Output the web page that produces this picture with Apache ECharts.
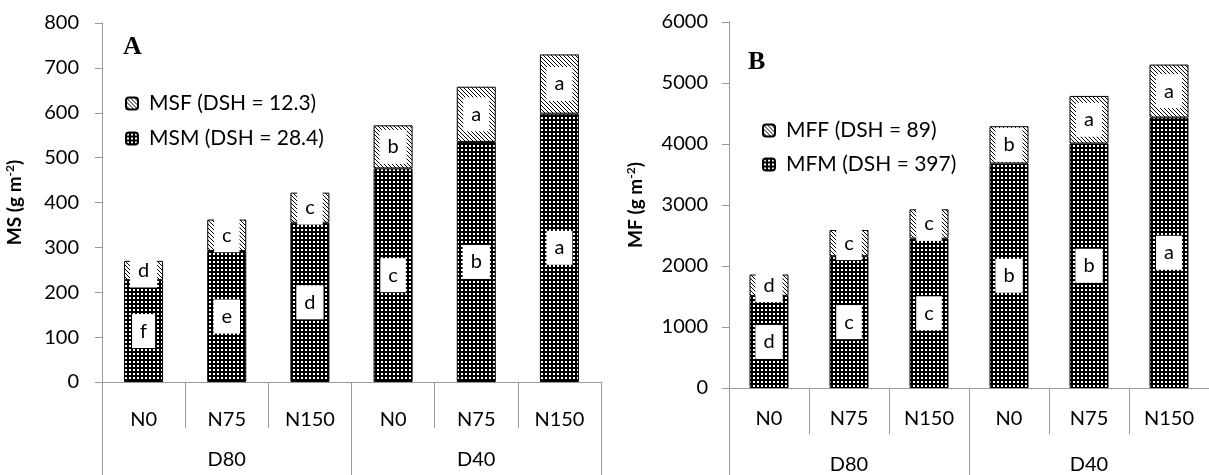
<!DOCTYPE html>
<html>
<head>
<meta charset="utf-8">
<title>MS / MF</title>
<script src="https://cdn.jsdelivr.net/npm/echarts@6/dist/echarts.min.js"></script>
<style>
  html, body { margin: 0; padding: 0; background: #fff; }
  #chart { width: 1209px; height: 475px; }
</style>
</head>
<body>
<div id="chart"></div>
<script>
// Treatments: nitrogen level (inner) within density (outer)
const categories = ['N0', 'N75', 'N150', 'N0', 'N75', 'N150'];
const groups = ['D80', 'D40'];

// Panel A: dry matter (g m-2)
const msm = [227, 292, 355, 476, 535, 598];
const msf = [43, 70, 67, 96, 123, 132];
const msmLetters = ['f', 'e', 'd', 'c', 'b', 'a'];
const msfLetters = ['d', 'c', 'c', 'b', 'a', 'a'];

// Panel B: fresh matter (g m-2)
const mfm = [1510, 2160, 2450, 3680, 4008, 4434];
const mff = [350, 430, 480, 612, 780, 868];
const mfmLetters = ['d', 'c', 'c', 'b', 'b', 'a'];
const mffLetters = ['d', 'c', 'c', 'b', 'a', 'a'];

// Value axis ranges
const yA = { min: 0, max: 800, interval: 100 };
const yB = { min: 0, max: 6000, interval: 1000 };

const FONT = 'Lato';
const AXIS_GRAY = '#999';

// Black fill with small white dots
function dotPattern() {
  const c = document.createElement('canvas');
  c.width = 4; c.height = 4;
  const g = c.getContext('2d');
  g.fillStyle = '#000';
  g.fillRect(0, 0, 4, 4);
  g.fillStyle = '#fff';
  g.fillRect(1, 1, 2, 2);
  return c;
}
// White fill with thin downward diagonals
function hatchPattern() {
  const c = document.createElement('canvas');
  c.width = 4; c.height = 4;
  const g = c.getContext('2d');
  g.fillStyle = '#fff';
  g.fillRect(0, 0, 4, 4);
  g.fillStyle = '#000';
  for (let i = 0; i < 4; i++) g.fillRect(i, i, 1, 1);
  return c;
}
const dots = { image: dotPattern(), repeat: 'repeat' };
const hatch = { image: hatchPattern(), repeat: 'repeat' };

function letterLabel(letters) {
  return {
    show: true,
    position: 'inside',
    formatter: p => letters[p.dataIndex],
    backgroundColor: '#fff',
    padding: [7, 8],
    color: '#000',
    fontSize: 20,
    fontFamily: FONT
  };
}

function barSeries(name, data, fill, letters, axisIdx, stack) {
  return {
    name: name,
    type: 'bar',
    stack: stack,
    xAxisIndex: axisIdx.x,
    yAxisIndex: axisIdx.y,
    data: data,
    barWidth: 39,
    itemStyle: { color: fill, borderColor: '#000', borderWidth: 1 },
    label: letterLabel(letters),
    emphasis: { disabled: true }
  };
}

function innerAxis(grid, margin) {
  return {
    type: 'category', gridIndex: grid, data: categories, position: 'bottom',
    axisLine: { show: true, lineStyle: { color: AXIS_GRAY, width: 1 } },
    axisTick: { show: true, length: 46, lineStyle: { color: AXIS_GRAY, width: 1 } },
    axisLabel: { margin: margin, fontSize: 20, color: '#000', fontFamily: FONT },
    splitLine: { show: false }
  };
}
function outerAxis(grid, margin) {
  return {
    type: 'category', gridIndex: grid, data: groups, position: 'bottom',
    axisLine: { show: false },
    axisTick: { show: true, length: 93, lineStyle: { color: AXIS_GRAY, width: 1 } },
    axisLabel: { margin: margin, fontSize: 20, color: '#000', fontFamily: FONT },
    splitLine: { show: false }
  };
}
function valueAxis(grid, range, title, gap, margin) {
  return {
    type: 'value', gridIndex: grid,
    min: range.min, max: range.max, interval: range.interval,
    axisLine: { show: true, lineStyle: { color: AXIS_GRAY, width: 1 } },
    axisTick: { show: true, length: 7, lineStyle: { color: AXIS_GRAY, width: 1 } },
    axisLabel: { margin: margin, fontSize: 20, color: '#000', fontFamily: FONT,
      formatter: v => String(v) },
    splitLine: { show: false },
    name: title,
    nameLocation: 'middle',
    nameGap: gap,
    nameTextStyle: {
      fontSize: 19, fontWeight: 'bold', color: '#000', fontFamily: FONT,
      rich: {
        b: { fontSize: 19, fontWeight: 'bold', color: '#000', fontFamily: FONT },
        sup: { fontSize: 12, fontWeight: 'bold', color: '#000', fontFamily: FONT, padding: [0, 0, 10, 0] }
      }
    }
  };
}

const legendText = { fontSize: 21, color: '#000', fontFamily: FONT, lineHeight: 20, padding: [0, 0, 0, 6] };

const chart = echarts.init(document.getElementById('chart'), null, { renderer: 'canvas' });
chart.setOption({
  animation: false,
  backgroundColor: '#fff',
  title: [
    { text: 'A', left: 123, top: 34, padding: 0,
      textStyle: { fontFamily: 'Liberation Serif', fontWeight: 'bold', fontSize: 26, color: '#000' } },
    { text: 'B', left: 748, top: 49, padding: 0,
      textStyle: { fontFamily: 'Liberation Serif', fontWeight: 'bold', fontSize: 26, color: '#000' } }
  ],
  legend: [
    { orient: 'vertical', left: 125, top: 93, padding: 0, itemGap: 14,
      itemWidth: 12, itemHeight: 12, selectedMode: false,
      data: ['MSF (DSH = 12.3)', 'MSM (DSH = 28.4)'], textStyle: legendText },
    { orient: 'vertical', left: 762, top: 120, padding: 0, itemGap: 13,
      itemWidth: 12, itemHeight: 12, selectedMode: false,
      data: ['MFF (DSH = 89)', 'MFM (DSH = 397)'], textStyle: legendText }
  ],
  grid: [
    { left: 102, top: 23, width: 499, height: 359 },
    { left: 729, top: 22, width: 488, height: 366 }
  ],
  xAxis: [
    innerAxis(0, 28), outerAxis(0, 68),
    innerAxis(1, 21), outerAxis(1, 67)
  ],
  yAxis: [
    valueAxis(0, yA, '{b|MS (g m}{sup|-2}{b|)}', 76, 23),
    valueAxis(1, yB, '{b|MF (g m}{sup|-2}{b|)}', 82, 21)
  ],
  series: [
    barSeries('MSM (DSH = 28.4)', msm, dots, msmLetters, { x: 0, y: 0 }, 'A'),
    barSeries('MSF (DSH = 12.3)', msf, hatch, msfLetters, { x: 0, y: 0 }, 'A'),
    barSeries('MFM (DSH = 397)', mfm, dots, mfmLetters, { x: 2, y: 1 }, 'B'),
    barSeries('MFF (DSH = 89)', mff, hatch, mffLetters, { x: 2, y: 1 }, 'B')
  ]
});
</script>
</body>
</html>
